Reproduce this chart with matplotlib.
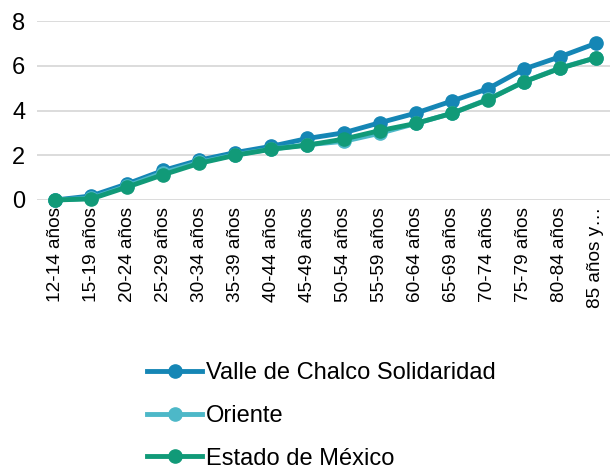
import matplotlib
matplotlib.use('Agg')
import matplotlib.pyplot as plt

plt.rcParams['font.family'] = ['Liberation Sans', 'DejaVu Sans']

# age groups and rates per series
grupos = ['12-14 años', '15-19 años', '20-24 años', '25-29 años', '30-34 años',
          '35-39 años', '40-44 años', '45-49 años', '50-54 años', '55-59 años',
          '60-64 años', '65-69 años', '70-74 años', '75-79 años', '80-84 años',
          '85 años y…']
valle = [0.0, 0.18, 0.72, 1.32, 1.78, 2.12, 2.40, 2.75, 3.00, 3.45,
         3.88, 4.42, 4.97, 5.85, 6.40, 7.00]
oriente = [0.0, 0.08, 0.62, 1.22, 1.68, 2.02, 2.28, 2.47, 2.62, 2.98,
           3.42, 3.87, 4.50, 5.28, 5.90, 6.36]
estado = [0.0, 0.05, 0.58, 1.13, 1.64, 2.00, 2.27, 2.45, 2.72, 3.10,
          3.42, 3.87, 4.48, 5.28, 5.88, 6.36]

series = [('Valle de Chalco Solidaridad', valle, '#1586B5'),
          ('Oriente', oriente, '#4DB8C8'),
          ('Estado de México', estado, '#119A78')]

fig = plt.figure(figsize=(6.10, 4.71), dpi=100)
ax = fig.add_axes([37 / 610, 271 / 471, 577 / 610, 179 / 471])

x = list(range(len(grupos)))
lines = []
for nombre, vals, color in series:
    ln, = ax.plot(x, vals, color=color, lw=3.5, marker='o', markersize=9.5,
                  label=nombre, clip_on=False, zorder=3)
    lines.append(ln)

ax.set_xlim(-0.5, len(grupos) - 0.5)
ax.set_ylim(0, 8)
ax.set_yticks([0, 2, 4, 6, 8])
ax.grid(axis='y', color='#d9d9d9', lw=1.3)
ax.set_axisbelow(True)
for s in ax.spines.values():
    s.set_visible(False)

ax.set_xticks(x)
ax.set_xticklabels(grupos, rotation=90, fontsize=13.7, va='top')
ax.tick_params(axis='x', length=0, pad=5)
ax.tick_params(axis='y', length=0, pad=8.5, labelsize=17)

fig.legend(handles=lines, loc='upper left', bbox_to_anchor=(147 / 610, 1 - 362 / 471),
           frameon=False, fontsize=17, handlelength=2.35, handletextpad=0.15,
           labelspacing=0.88, borderpad=0, borderaxespad=0)

fig.savefig('out.png', dpi=100)
